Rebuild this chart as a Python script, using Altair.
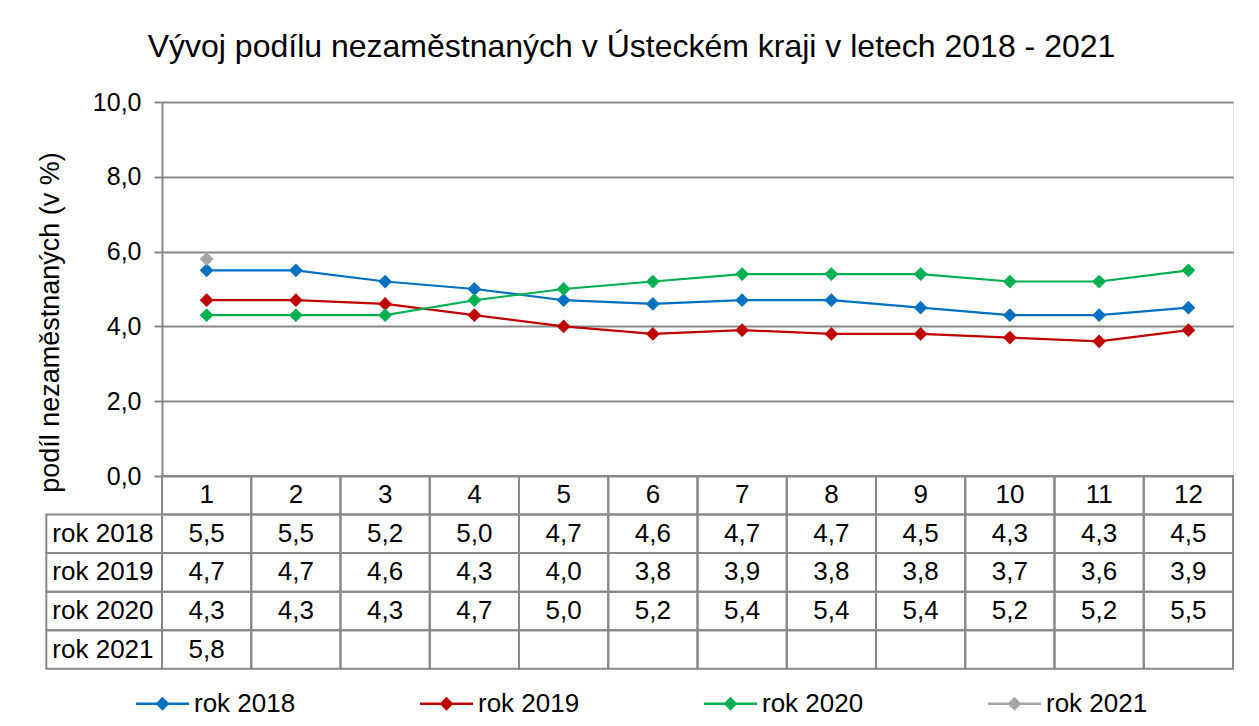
import altair as alt
import pandas as pd

# ---- data ----
months = list(range(1, 13))
series_names = ["rok 2018", "rok 2019", "rok 2020", "rok 2021"]
rok_2018 = [5.5, 5.5, 5.2, 5.0, 4.7, 4.6, 4.7, 4.7, 4.5, 4.3, 4.3, 4.5]
rok_2019 = [4.7, 4.7, 4.6, 4.3, 4.0, 3.8, 3.9, 3.8, 3.8, 3.7, 3.6, 3.9]
rok_2020 = [4.3, 4.3, 4.3, 4.7, 5.0, 5.2, 5.4, 5.4, 5.4, 5.2, 5.2, 5.5]
rok_2021 = [5.8]
y_ticks = [0, 2, 4, 6, 8, 10]
colors = ["#0070C0", "#C00000", "#00B050", "#A5A5A5"]

chart_title = "Vývoj podílu nezaměstnaných v Ústeckém kraji v letech 2018 - 2021"
y_title = "podíl nezaměstnaných (v %)"

series_values = [rok_2018, rok_2019, rok_2020, rok_2021]

# ---- layout constants (scale units) ----
ROW = 1.031          # table row height in y-units
LABEL_LEFT = -0.796  # left edge of the row-label column in x-units
FONT = "Liberation Sans"
GRID = "#888888"
TXT = 26

rows = []
for name, vals in zip(series_names, series_values):
    for m, v in zip(months, vals):
        rows.append({"series": name, "month": m, "value": v})
df = pd.DataFrame(rows)

cells, cell_texts, row_labels = [], [], []
for m in months:
    cells.append({"x": m - 0.5, "x2": m + 0.5, "y": 0.0, "y2": -ROW})
    cell_texts.append({"x": m, "y": -ROW / 2, "text": str(m)})
for k, (name, vals) in enumerate(zip(series_names, series_values), start=1):
    top, bot = -k * ROW, -(k + 1) * ROW
    cells.append({"x": LABEL_LEFT, "x2": 0.5, "y": top, "y2": bot})
    row_labels.append({"x": LABEL_LEFT, "y": (top + bot) / 2, "text": name})
    for i, m in enumerate(months):
        cells.append({"x": m - 0.5, "x2": m + 0.5, "y": top, "y2": bot})
        if i < len(vals):
            cell_texts.append({"x": m, "y": (top + bot) / 2,
                               "text": f"{vals[i]:.1f}".replace(".", ",")})
cells_df = pd.DataFrame(cells)
texts_df = pd.DataFrame(cell_texts)
labels_df = pd.DataFrame(row_labels)

xs = alt.Scale(domain=[0.5, 12.5], nice=False, zero=False)
ys = alt.Scale(domain=[0, 10], nice=False, zero=False)
cs = alt.Scale(domain=series_names, range=colors)

y_axis = alt.Axis(
    values=y_ticks, labelExpr="replace(format(datum.value, '.1f'), '.', ',')",
    title=y_title, titleFont=FONT, titleFontSize=27, titleFontWeight="normal",
    titleColor="#000", titleAngle=270, titleX=-104, titleY=220,
    titleBaseline="alphabetic", titleAlign="center",
    labelFont=FONT, labelFontSize=25, labelColor="#000", labelPadding=13,
    tickSize=8, tickColor=GRID, tickWidth=2,
    domainColor=GRID, domainWidth=2,
    grid=True, gridColor=GRID, gridWidth=2,
)

symbol_path = "M-1,-0.05H1V0.05H-1Z M0,-0.26L0.26,0L0,0.26L-0.26,0Z"
legend = alt.Legend(
    orient="none", legendX=-26, legendY=575, direction="horizontal",
    title=None, symbolType=symbol_path, symbolSize=2809,
    symbolStrokeWidth=0, labelFont=FONT, labelFontSize=TXT,
    labelColor="#000", labelOffset=5, columnPadding=124,
)


def X(field):
    return alt.X(field, scale=xs, axis=None)


def Y(field):
    return alt.Y(field, scale=ys, axis=y_axis)


lines = alt.Chart(df).mark_line(strokeWidth=2.2).encode(
    x=X("month:Q"), y=Y("value:Q"),
    color=alt.Color("series:N", scale=cs, legend=legend),
)

points = alt.Chart(df).mark_point(filled=True, shape="diamond", size=190, opacity=1).encode(
    x=X("month:Q"), y=Y("value:Q"),
    color=alt.Color("series:N", scale=cs, legend=legend),
)

cell_rects = alt.Chart(cells_df).mark_rect(
    fill="transparent", stroke=GRID, strokeWidth=2
).encode(x=X("x:Q"), x2="x2:Q", y=Y("y:Q"), y2="y2:Q")

cell_text = alt.Chart(texts_df).mark_text(
    font=FONT, fontSize=TXT, color="#000", align="center", baseline="middle"
).encode(x=X("x:Q"), y=Y("y:Q"), text="text:N")

label_text = alt.Chart(labels_df).mark_text(
    font=FONT, fontSize=TXT, color="#000", align="left", baseline="middle", dx=6
).encode(x=X("x:Q"), y=Y("y:Q"), text="text:N")

chart = alt.layer(lines, points, cell_rects, cell_text, label_text).properties(
    width=1071,
    height=374,
    title=alt.TitleParams(
        chart_title, font=FONT, fontSize=32, fontWeight="normal", color="#000",
        anchor="middle", frame="group", dx=-66, offset=1, baseline="alphabetic",
    ),
    autosize=alt.AutoSizeParams(type="none"),
    padding={"left": 154, "top": 94, "right": 10, "bottom": 242},
).configure_view(strokeWidth=0).configure(background="white")

chart.save("out.html", embed_options={"renderer": "svg", "actions": False})
